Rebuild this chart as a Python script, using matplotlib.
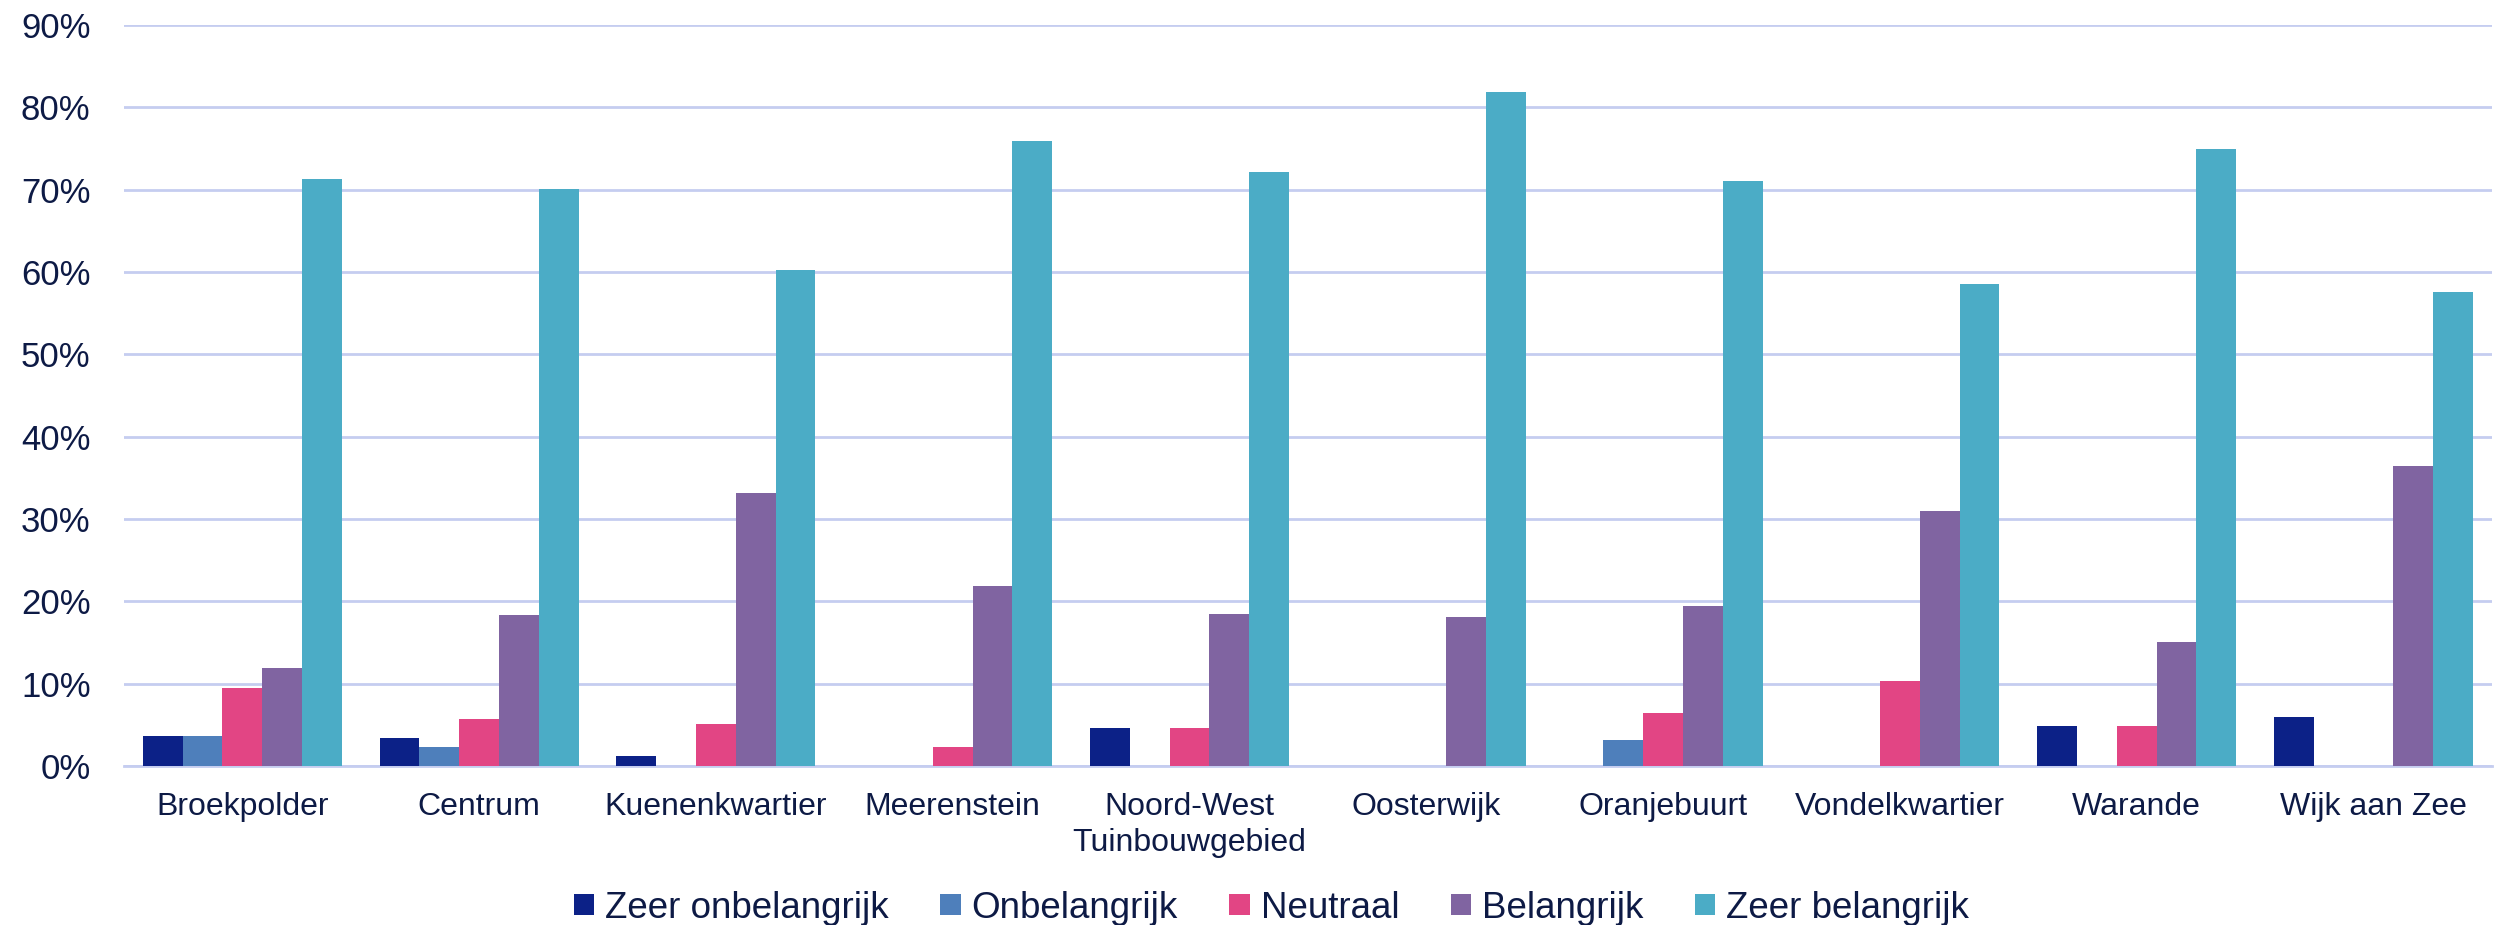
import numpy as np
import matplotlib
matplotlib.use("Agg")
import matplotlib.pyplot as plt
from matplotlib.ticker import PercentFormatter

plt.rcParams['font.family'] = ['Liberation Sans', 'DejaVu Sans']

wijken = ['Broekpolder', 'Centrum', 'Kuenenkwartier', 'Meerenstein',
          'Noord-West\nTuinbouwgebied', 'Oosterwijk', 'Oranjebuurt',
          'Vondelkwartier', 'Warande', 'Wijk aan Zee']
series = ['Zeer onbelangrijk', 'Onbelangrijk', 'Neutraal', 'Belangrijk', 'Zeer belangrijk']

zeer_onbelangrijk = [3.6, 3.4, 1.2, 0, 4.6, 0, 0, 0, 4.9, 6.0]
onbelangrijk = [3.6, 2.3, 0, 0, 0, 0, 3.2, 0, 0, 0]
neutraal = [9.5, 5.7, 5.1, 2.3, 4.6, 0, 6.4, 10.3, 4.9, 0]
belangrijk = [11.9, 18.3, 33.2, 21.8, 18.5, 18.1, 19.4, 31.0, 15.0, 36.4]
zeer_belangrijk = [71.3, 70.1, 60.2, 75.9, 72.1, 81.8, 71.0, 58.5, 74.9, 57.6]

colors = ['#0c2187', '#4e7fbb', '#e24584', '#8064a1', '#4bacc6']
text_col = '#0d1a45'
grid_col = '#c5cdf0'

data = [zeer_onbelangrijk, onbelangrijk, neutraal, belangrijk, zeer_belangrijk]

fig, ax = plt.subplots(figsize=(24.98, 9.25), dpi=100)
fig.subplots_adjust(left=0.0496, right=0.9976, top=0.973, bottom=0.172)

x = np.arange(len(wijken))
w = 0.168
for j, (vals, name) in enumerate(zip(data, series)):
    ax.bar(x + (j - 2) * w, np.array(vals) / 100, w, color=colors[j], label=name, zorder=3)

ax.set_xlim(-0.5, len(wijken) - 0.5)
ax.set_ylim(0, 0.9)
ax.set_yticks(np.arange(0, 0.91, 0.1))
ax.yaxis.set_major_formatter(PercentFormatter(1.0, decimals=0))
ax.set_xticks(x)
ax.set_xticklabels(wijken, fontsize=23, color=text_col, linespacing=1.25)
ax.tick_params(axis='y', labelsize=25, labelcolor=text_col, length=0, pad=24)
ax.tick_params(axis='x', length=0, pad=19)

ax.grid(axis='y', color=grid_col, linewidth=2, zorder=0)
for s in ['top', 'right', 'left']:
    ax.spines[s].set_visible(False)
ax.spines['bottom'].set_color(grid_col)
ax.spines['bottom'].set_linewidth(2)

fig.legend(loc='center', bbox_to_anchor=(0.509, 0.018), ncol=5, frameon=False,
           fontsize=26.5, labelcolor=text_col, handlelength=0.55, handleheight=0.5,
           handletextpad=0.3, columnspacing=1.4)

fig.savefig('out.png', dpi=100)
